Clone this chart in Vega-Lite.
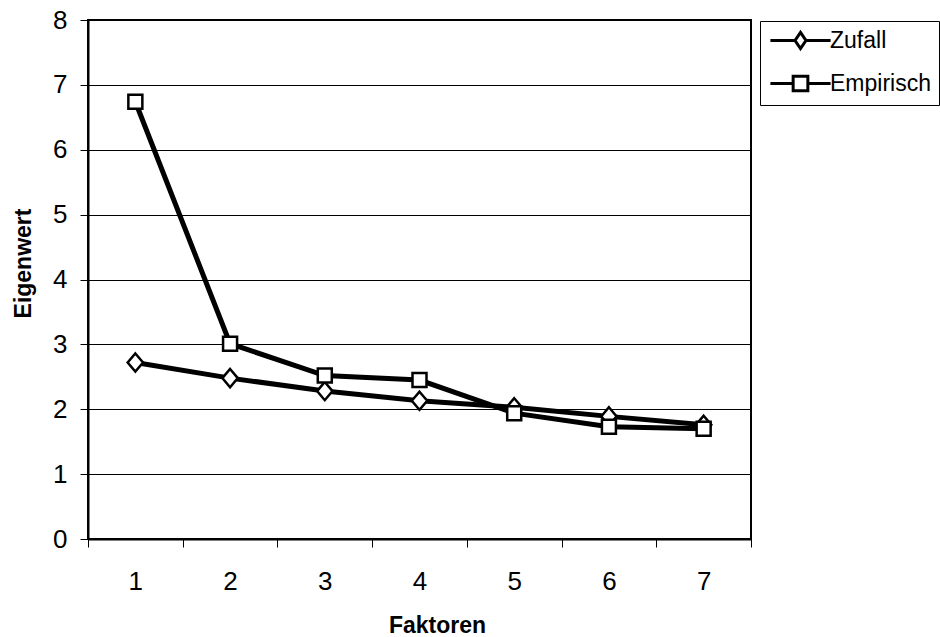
{
  "$schema": "https://vega.github.io/schema/vega-lite/v6.json",
  "width": 663,
  "height": 519,
  "autosize": {"type": "none"},
  "padding": {"left": 88, "top": 20, "right": 189, "bottom": 98},
  "background": "white",
  "config": {
    "view": {"stroke": "black", "strokeWidth": 2},
    "font": "Liberation Sans",
    "axis": {"labelFont": "Liberation Sans", "titleFont": "Liberation Sans", "labelColor": "black", "titleColor": "black"}
  },
  "data": {
    "values": [
      {"Faktor": 1, "Serie": "Zufall", "Eigenwert": 2.72},
      {"Faktor": 2, "Serie": "Zufall", "Eigenwert": 2.48},
      {"Faktor": 3, "Serie": "Zufall", "Eigenwert": 2.28},
      {"Faktor": 4, "Serie": "Zufall", "Eigenwert": 2.13},
      {"Faktor": 5, "Serie": "Zufall", "Eigenwert": 2.03},
      {"Faktor": 6, "Serie": "Zufall", "Eigenwert": 1.89},
      {"Faktor": 7, "Serie": "Zufall", "Eigenwert": 1.76},
      {"Faktor": 1, "Serie": "Empirisch", "Eigenwert": 6.74},
      {"Faktor": 2, "Serie": "Empirisch", "Eigenwert": 3.01},
      {"Faktor": 3, "Serie": "Empirisch", "Eigenwert": 2.52},
      {"Faktor": 4, "Serie": "Empirisch", "Eigenwert": 2.45},
      {"Faktor": 5, "Serie": "Empirisch", "Eigenwert": 1.94},
      {"Faktor": 6, "Serie": "Empirisch", "Eigenwert": 1.73},
      {"Faktor": 7, "Serie": "Empirisch", "Eigenwert": 1.70}
    ]
  },
  "encoding": {
    "x": {
      "field": "Faktor", "type": "ordinal", "bandPosition": 0.5,
      "scale": {"type": "band", "paddingInner": 0, "paddingOuter": 0},
      "axis": {
        "title": "Faktoren", "labelAngle": 0, "labelFontSize": 26, "labelPadding": 21,
        "tickBand": "extent", "tickSize": 8, "tickColor": "black", "tickWidth": 1,
        "domainColor": "black", "domainWidth": 2, "grid": false,
        "titleFontSize": 23, "titleFontWeight": "bold", "titleX": 349, "titleY": 93, "titleBaseline": "alphabetic"
      }
    },
    "y": {
      "field": "Eigenwert", "type": "quantitative",
      "scale": {"domain": [0, 8], "nice": false},
      "axis": {
        "title": "Eigenwert", "values": [0,1,2,3,4,5,6,7,8], "labelFontSize": 26, "labelPadding": 13,
        "tickSize": 8, "tickColor": "black", "tickWidth": 1,
        "domainColor": "black", "domainWidth": 2,
        "grid": true, "gridColor": "black", "gridWidth": 1, "gridOpacity": 1,
        "titleFontSize": 23, "titleFontWeight": "bold", "titleX": -58, "titleY": 243, "titleBaseline": "alphabetic", "titleAngle": -90
      }
    }
  },
  "layer": [
    {
      "transform": [{"filter": "datum.Serie === 'Zufall'"}],
      "mark": {"type": "line", "color": "black", "strokeWidth": 5}
    },
    {
      "transform": [{"filter": "datum.Serie === 'Zufall'"}],
      "mark": {"type": "point", "shape": "M0,-1.3L1.1,0L0,1.3L-1.1,0Z", "size": 196, "filled": true, "fill": "white", "stroke": "black", "strokeWidth": 2.5, "opacity": 1}
    },
    {
      "transform": [{"filter": "datum.Serie === 'Empirisch'"}],
      "mark": {"type": "line", "color": "black", "strokeWidth": 5}
    },
    {
      "transform": [{"filter": "datum.Serie === 'Empirisch'"}],
      "mark": {"type": "point", "shape": "square", "size": 196, "filled": true, "fill": "white", "stroke": "black", "strokeWidth": 2.5, "opacity": 1}
    },
    {
      "transform": [{"filter": "datum.Faktor > 100"}],
      "mark": {"type": "point", "strokeWidth": 3},
      "encoding": {
        "shape": {
          "field": "Serie", "type": "nominal",
          "scale": {
            "domain": ["Zufall", "Empirisch"],
            "range": ["M-4.3,0L-0.78,0M0.78,0L4.3,0M0,-1.15L0.78,0L0,1.15L-0.78,0Z", "M-4.3,0L-1.05,0M1.05,0L4.3,0M-1.05,-1.05L1.05,-1.05L1.05,1.05L-1.05,1.05Z"]
          },
          "legend": {
            "title": null, "orient": "none", "legendX": 672, "legendY": 1,
            "padding": 8, "strokeColor": "black", "fillColor": "white",
            "symbolSize": 196, "symbolStrokeWidth": 3, "symbolStrokeColor": "black", "symbolFillColor": "white", "symbolOpacity": 1,
            "symbolOffset": 21, "labelOffset": 18, "rowPadding": 15,
            "labelFont": "Liberation Sans", "labelFontSize": 23, "labelColor": "black"
          }
        }
      }
    }
  ]
}
